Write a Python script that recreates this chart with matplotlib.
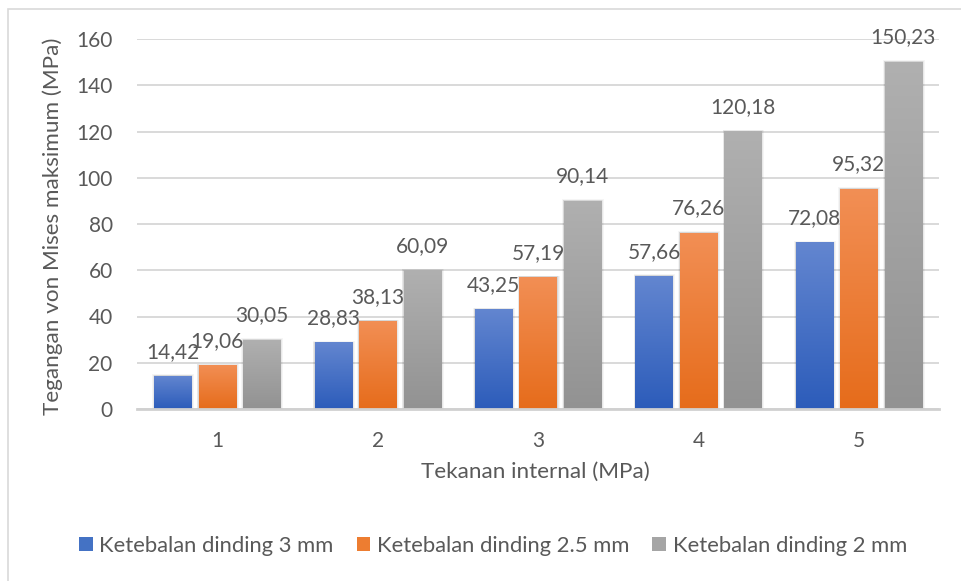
import numpy as np
import matplotlib
matplotlib.use("Agg")
import matplotlib.pyplot as plt
from matplotlib.patches import Rectangle, Patch
from matplotlib.colors import LinearSegmentedColormap

# Data
categories = ["1", "2", "3", "4", "5"]
series_names = ["Ketebalan dinding 3 mm", "Ketebalan dinding 2.5 mm", "Ketebalan dinding 2 mm"]
thick_3mm = [14.42, 28.83, 43.25, 57.66, 72.08]
thick_2_5mm = [19.06, 38.13, 57.19, 76.26, 95.32]
thick_2mm = [30.05, 60.09, 90.14, 120.18, 150.23]
y_ticks = [0, 20, 40, 60, 80, 100, 120, 140, 160]

series_values = [thick_3mm, thick_2_5mm, thick_2mm]
# (top colour, bottom colour, legend colour) for each series' vertical gradient
grad_colors = [
    ("#6386d0", "#2c5cba", "#4472c4"),
    ("#f28f55", "#e66c1b", "#ed7d31"),
    ("#b0b0b0", "#929292", "#a5a5a5"),
]

W, H = 961, 581
DPI = 100
plt.rcParams["font.family"] = ["Lato", "DejaVu Sans"]
text_color = "#595959"
fs_num = 15
fs_txt = 16.2

fig = plt.figure(figsize=(W / DPI, H / DPI), dpi=DPI)
fig.patch.set_facecolor("white")

# Outer chart-area border
fig.add_artist(Rectangle((8 / W, 0 - 0.01), 1.0, 1 - 9 / H + 0.01,
                         transform=fig.transFigure, fill=False,
                         edgecolor="#d9d9d9", lw=1.2))

left, right, top, bottom = 137, 939, 39, 409
ax = fig.add_axes([left / W, 1 - bottom / H, (right - left) / W, (bottom - top) / H])

x = np.arange(len(categories))
bar_w = 0.231
offsets = [-0.277, 0.0, 0.277]

for vals, off, (ctop, cbot, cmid) in zip(series_values, offsets, grad_colors):
    bars = ax.bar(x + off, vals, width=bar_w, color=cmid, zorder=3, linewidth=0)
    cmap = LinearSegmentedColormap.from_list("g", [cbot, ctop])
    grad = np.linspace(0, 1, 256).reshape(-1, 1)
    for b, v in zip(bars, vals):
        x0 = b.get_x()
        # soft shadow around the bar
        for k, a in ((3, 0.04), (2, 0.05), (1, 0.07)):
            dx = k / 160.4
            dy = k / 2.3125
            ax.add_patch(Rectangle((x0 - dx * 0.6, 0), bar_w + dx * 1.6, v + dy * 0.4,
                                   facecolor="black", alpha=a, lw=0, zorder=2))
        im = ax.imshow(grad, cmap=cmap, extent=(x0, x0 + bar_w, 0, v),
                       origin="lower", aspect="auto", zorder=4, interpolation="bilinear")
        im.set_clip_path(b)
        ax.annotate(f"{v:.2f}".replace(".", ","), (x0 + bar_w / 2, v),
                    xytext=(0, 13), textcoords="offset points",
                    ha="center", va="baseline", fontsize=fs_num, color=text_color, zorder=6)

ax.set_xlim(-0.5, len(categories) - 0.5)
ax.set_ylim(0, 160)

ax.set_yticks(y_ticks)
ax.set_yticklabels([str(t) for t in y_ticks])
ax.set_xticks(x)
ax.set_xticklabels(categories)
ax.tick_params(axis="both", length=0, labelsize=fs_num, labelcolor=text_color)
ax.tick_params(axis="y", pad=17.5)
ax.tick_params(axis="x", pad=16)

ax.yaxis.grid(True, color="#d9d9d9", lw=1.4, zorder=0)
ax.set_axisbelow(True)
for s in ["top", "right", "left"]:
    ax.spines[s].set_visible(False)
ax.spines["bottom"].set_color("#d0d0d0")
ax.spines["bottom"].set_linewidth(2)
ax.spines["bottom"].set_zorder(5)

fig.text(53 / W, 1 - 226 / H, "Tegangan von Mises maksimum (MPa)", rotation=90,
         ha="center", va="center", fontsize=fs_txt, color=text_color)
fig.text(535 / W, 1 - 478 / H, "Tekanan internal (MPa)",
         ha="center", va="baseline", fontsize=fs_txt, color=text_color)

handles = [Patch(facecolor=c[2], edgecolor="none") for c in grad_colors]
fig.legend(handles, series_names, loc="center", bbox_to_anchor=(493 / W, 1 - 546 / H),
           ncol=3, frameon=False, fontsize=fs_txt - 0.4, labelcolor=text_color,
           handlelength=0.62, handleheight=0.62, handletextpad=0.3,
           columnspacing=1.05)

fig.savefig("out.png", dpi=DPI, facecolor="white")
